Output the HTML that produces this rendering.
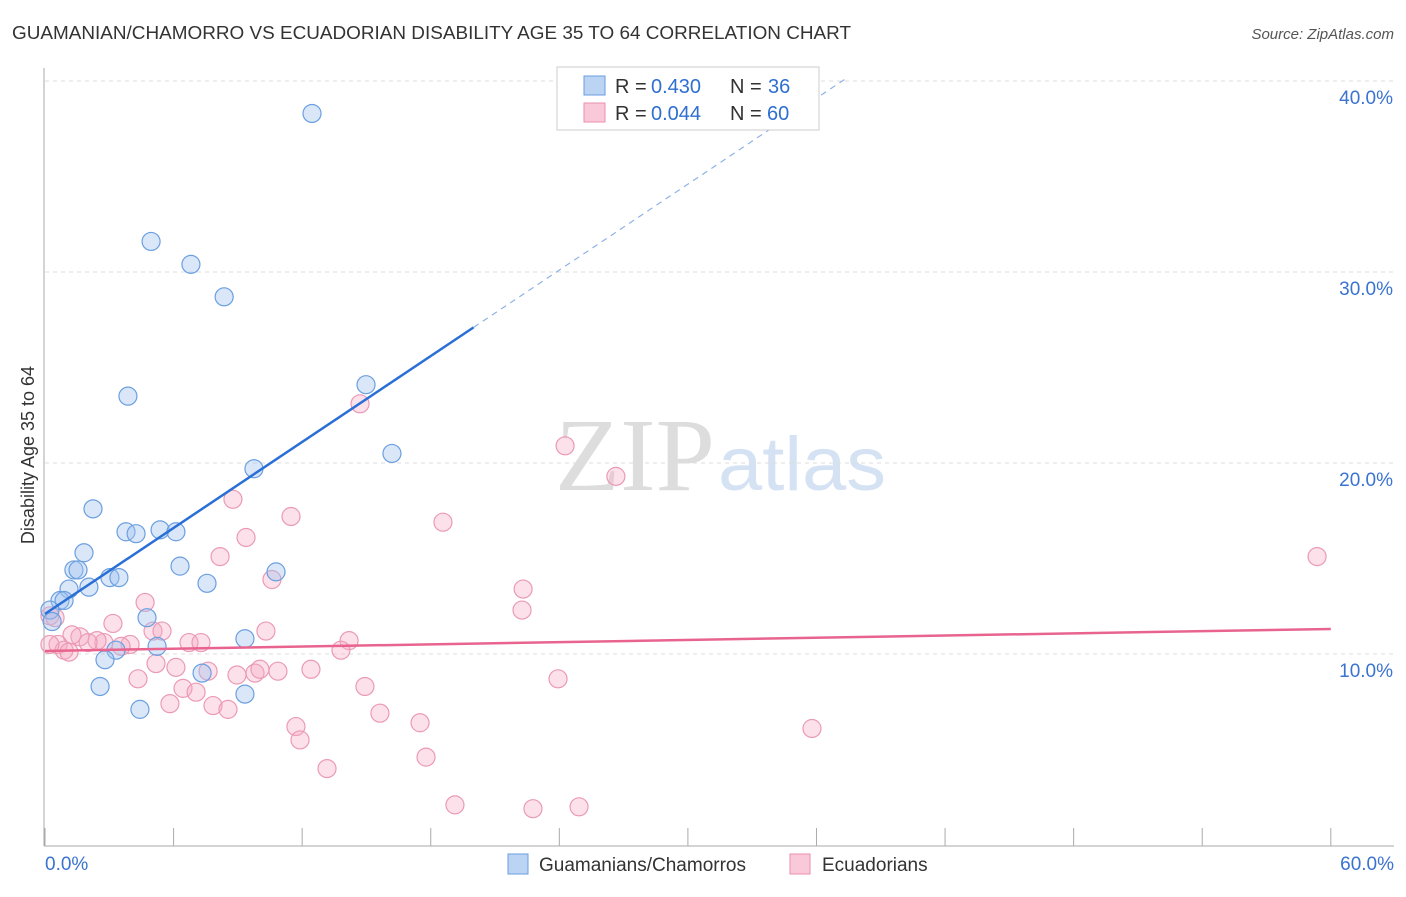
<!DOCTYPE html>
<html><head><meta charset="utf-8"><style>
body{margin:0;background:#fff;font-family:"Liberation Sans",sans-serif}
</style></head><body>
<svg width="1406" height="892" xmlns="http://www.w3.org/2000/svg">
<text x="12" y="39" font-size="18" fill="#333" textLength="839" lengthAdjust="spacingAndGlyphs">GUAMANIAN/CHAMORRO VS ECUADORIAN DISABILITY AGE 35 TO 64 CORRELATION CHART</text>
<text x="1394" y="39" font-size="15" fill="#555" font-style="italic" text-anchor="end">Source: ZipAtlas.com</text>
<text x="555" y="490" font-size="104" fill="#ddd" textLength="160" lengthAdjust="spacingAndGlyphs" font-family="Liberation Serif,serif">ZIP</text>
<text x="718" y="490" font-size="76" fill="#d4e2f3" textLength="168" lengthAdjust="spacingAndGlyphs">atlas</text>
<g id="grid"></g>
<g id="axes"></g>
<g id="marks"></g>
<text transform="translate(34,455) rotate(-90)" font-size="18" fill="#333" text-anchor="middle">Disability Age 35 to 64</text>
<g>
<rect x="557" y="67" width="262" height="63" fill="#fff" stroke="#ccc"/>
<rect x="584" y="76" width="21" height="19" fill="#bcd4f3" stroke="#6a9de0"/>
<rect x="584" y="103" width="21" height="19" fill="#f9c9d9" stroke="#eb8fae"/>
<text x="615" y="93" font-size="20" fill="#333">R = </text><text x="651" y="93" font-size="20" fill="#2e6fd1">0.430</text>
<text x="730" y="93" font-size="20" fill="#333">N = </text><text x="768" y="93" font-size="20" fill="#2e6fd1">36</text>
<text x="615" y="120" font-size="20" fill="#333">R = </text><text x="651" y="120" font-size="20" fill="#2e6fd1">0.044</text>
<text x="730" y="120" font-size="20" fill="#333">N = </text><text x="767" y="120" font-size="20" fill="#2e6fd1">60</text>
</g>
<g>
<rect x="508" y="854" width="20" height="20" fill="#bcd4f3" stroke="#6a9de0"/>
<text x="539" y="871" font-size="19" fill="#333">Guamanians/Chamorros</text>
<rect x="790" y="854" width="20" height="20" fill="#f9c9d9" stroke="#eb8fae"/>
<text x="822" y="871" font-size="19" fill="#333">Ecuadorians</text>
</g>
</svg>
<script>
const xTicks=[0,6,12,18,24,30,36,42,48,54,60];
const yTicks=[10,20,30,40];
const blueX=[12.46,4.95,6.81,8.36,3.87,14.98,16.19,9.75,2.24,3.78,4.25,5.37,6.11,1.82,6.30,1.35,1.54,3.03,3.45,7.56,2.05,1.12,10.78,0.70,0.89,0.23,0.33,4.76,9.33,5.23,3.31,2.80,2.57,7.33,4.43,9.33];
const blueY=[38.3,31.6,30.4,28.7,23.5,24.1,20.5,19.7,17.6,16.4,16.3,16.5,16.4,15.3,14.6,14.4,14.4,14.0,14.0,13.7,13.5,13.4,14.3,12.8,12.8,12.3,11.7,11.9,10.8,10.4,10.2,9.7,8.3,9.0,7.1,7.9];
const pinkX=[14.70,24.27,26.64,8.77,11.48,18.57,9.38,8.17,10.59,22.31,22.26,4.67,3.17,5.04,5.46,14.19,13.81,6.72,7.28,10.31,3.97,3.55,2.75,2.43,1.63,1.26,2.01,0.61,0.89,1.12,0.23,0.47,5.18,6.11,7.61,8.96,9.80,10.03,10.87,12.41,4.34,6.44,7.05,14.93,23.94,5.83,7.84,8.54,15.63,11.71,17.50,11.90,13.16,17.78,19.13,22.77,24.92,35.79,59.36,0.23];
const pinkY=[23.1,20.9,19.3,18.1,17.2,16.9,16.1,15.1,13.9,13.4,12.3,12.7,11.6,11.2,11.2,10.7,10.2,10.6,10.6,11.2,10.5,10.4,10.6,10.7,10.9,11.0,10.6,10.5,10.2,10.1,12.0,11.9,9.5,9.3,9.1,8.9,9.0,9.2,9.1,9.2,8.7,8.2,8.0,8.3,8.7,7.4,7.3,7.1,6.9,6.2,6.4,5.5,4.0,4.6,2.1,1.9,2.0,6.1,15.1,10.5];
const blueTrend=[12.1,0.75];
const pinkTrend=[10.16,0.0192];
const X=v=>45+v*21.43, Y=v=>845-v*19.1;
const NS="http://www.w3.org/2000/svg";
function mk(t,a,p){const e=document.createElementNS(NS,t);for(const k in a)e.setAttribute(k,a[k]);document.getElementById(p).appendChild(e);return e;}
for(const t of yTicks){
 const g=mk('line',{x1:45,x2:1394,y1:Y(t),y2:Y(t),stroke:'#ddd','stroke-dasharray':'4,4'},'grid');
 
 
 const l=mk('text',{x:1393,y:Y(t)+23,'font-size':19,fill:'#3a73d0','text-anchor':'end'},'axes');
 l.textContent=t.toFixed(1)+'%';
 
 
}
mk('line',{x1:44,x2:44,y1:68,y2:846,stroke:'#aaa'},'axes');
mk('line',{x1:44,x2:1394,y1:846,y2:846,stroke:'#aaa'},'axes');
for(const t of xTicks){
 const k=mk('line',{x1:X(t),x2:X(t),y1:828,y2:846,stroke:'#aaa'},'axes');
 
 
}
const xl0=mk('text',{x:45,y:870,'font-size':19,fill:'#3a73d0'},'axes');xl0.textContent=xTicks[0].toFixed(1)+'%';


const xl1=mk('text',{x:1394,y:870,'font-size':19,fill:'#3a73d0','text-anchor':'end'},'axes');xl1.textContent=xTicks[xTicks.length-1].toFixed(1)+'%';


for(let i=0;i<pinkX.length;i++){
 const c=mk('circle',{cx:X(pinkX[i]),cy:Y(pinkY[i]),r:9,fill:'rgba(246,170,196,0.35)',stroke:'#eb9ab5','stroke-width':1.2},'marks');
 
 
}
for(let i=0;i<blueX.length;i++){
 const c=mk('circle',{cx:X(blueX[i]),cy:Y(blueY[i]),r:9,fill:'rgba(160,196,240,0.4)',stroke:'#6b9fe0','stroke-width':1.2},'marks');
 
 
}
const bx=20, bx2=37.3;
const bl=mk('line',{x1:X(0),y1:Y(blueTrend[0]),x2:X(bx),y2:Y(blueTrend[0]+blueTrend[1]*bx),stroke:'#2a6fd6','stroke-width':2.5},'marks');


const bd=mk('line',{x1:X(bx),y1:Y(blueTrend[0]+blueTrend[1]*bx),x2:X(bx2),y2:Y(blueTrend[0]+blueTrend[1]*bx2),stroke:'#8fb2e6','stroke-width':1.2,'stroke-dasharray':'6,5'},'marks');


const pl=mk('line',{x1:X(0),y1:Y(pinkTrend[0]),x2:X(60),y2:Y(pinkTrend[0]+pinkTrend[1]*60),stroke:'#e8648f','stroke-width':2.5},'marks');


</script>
</body></html>
